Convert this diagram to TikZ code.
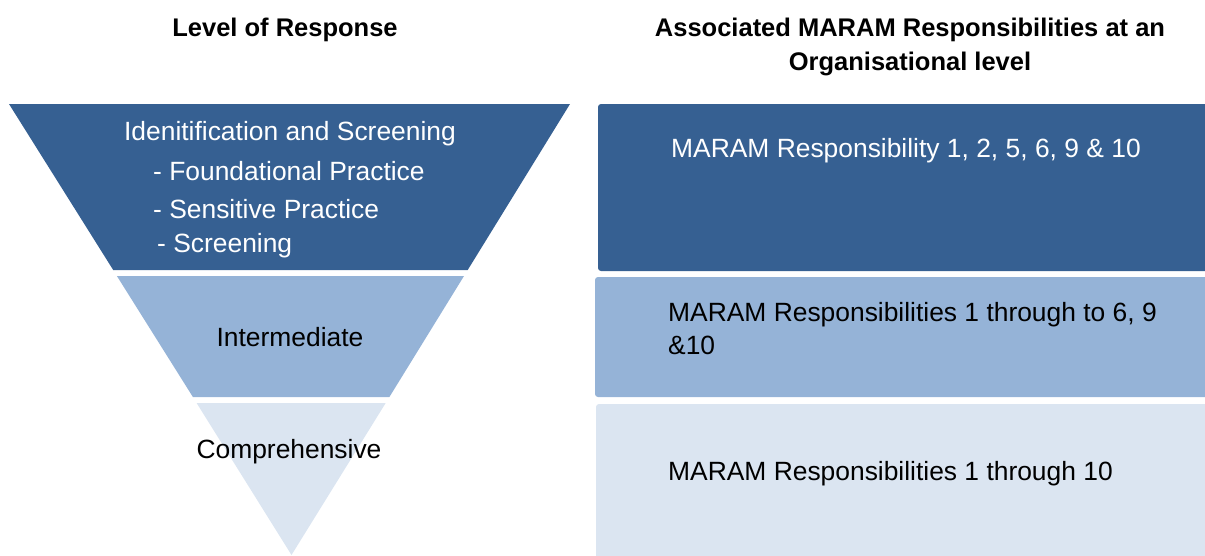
\documentclass[tikz,border=0pt]{standalone}
\usepackage{fontspec}
\setmainfont{Liberation Sans}
\definecolor{darkband}{HTML}{366092}
\definecolor{midband}{HTML}{95B3D7}
\definecolor{lightband}{HTML}{DBE5F1}
\begin{document}
\begin{tikzpicture}[x=1pt,y=-1pt,
  body/.style={font=\fontsize{26.4}{33}\selectfont, inner sep=0pt},
  head/.style={font=\fontsize{25.5}{34}\selectfont\bfseries, inner sep=0pt, align=center},
  panel/.style={rounded corners=3pt}]
\useasboundingbox (0,0) rectangle (1205,555);

% column headings
\node[head] (hleft) at (285,30) {Level of Response};
\node[head] (hright) at (910,47) {Associated MARAM Responsibilities at an\\Organisational level};

% inverted triangle, cut into three bands
\fill[darkband]  (9,104) -- (570,104) -- (467.7,270) -- (113.2,270) -- cycle;
\fill[midband]   (116.9,276) -- (464.0,276) -- (389.4,397) -- (192.9,397) -- cycle;
\fill[lightband] (196.6,403) -- (385.7,403) -- (291.5,555) -- cycle;

% band labels
\node[body, text=white] (t1) at (290,134) {Idenitification and Screening};
\node[body, text=white, anchor=west] (t2) at (153,171) {- Foundational Practice};
\node[body, text=white, anchor=west] (t3) at (153,209) {- Sensitive Practice};
\node[body, text=white, anchor=west] (t4) at (157,246) {- Screening};
\node[body] (t5) at (290,337) {Intermediate};
\node[body] (t6) at (289,452) {Comprehensive};

% responsibility panels
\fill[darkband, panel]  (598,104) rectangle (1210,271);
\fill[midband, panel]   (595,277) rectangle (1210,397);
\fill[lightband, panel] (596,404) rectangle (1210,560);

\node[body, text=white, anchor=west] (r1) at (671,151) {MARAM Responsibility 1, 2, 5, 6, 9 \& 10};
\node[body, anchor=west, align=left] (r2) at (668,329) {MARAM Responsibilities 1 through to 6, 9\\\&10};
\node[body, anchor=west] (r3) at (668,474) {MARAM Responsibilities 1 through 10};
\end{tikzpicture}
\end{document}
